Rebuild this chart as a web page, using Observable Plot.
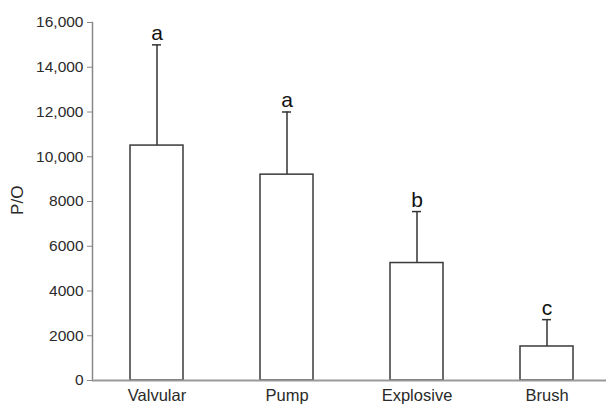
<!DOCTYPE html>
<html>
<head>
<meta charset="utf-8">
<script src="https://cdn.jsdelivr.net/npm/d3@7"></script>
<script src="https://cdn.jsdelivr.net/npm/@observablehq/plot@0.6"></script>
<style>
  html, body { margin: 0; padding: 0; background: #fff; }
  #chart svg { display: block; }
</style>
</head>
<body>
<div id="chart"></div>
<script>
const categories = ["Valvular", "Pump", "Explosive", "Brush"];
const means = [10500, 9200, 5250, 1520];
const upperErrors = [15000, 12000, 7550, 2720];
const letters = ["a", "a", "b", "c"];
const yTicks = [0, 2000, 4000, 6000, 8000, 10000, 12000, 14000, 16000];
const yTitle = "P/O";

const data = categories.map((c, i) => ({
  category: c, mean: means[i], upper: upperErrors[i], letter: letters[i]
}));

const fmt = d => d >= 10000 ? d3.format(",")(d) : String(d);

const chart = Plot.plot({
  width: 606,
  height: 406,
  marginTop: 22,
  marginBottom: 26,
  marginLeft: 92,
  marginRight: 0,
  style: { fontFamily: "Liberation Sans, Arial, sans-serif", background: "#fff" },
  x: { domain: categories, paddingInner: 0.593, paddingOuter: 0.269, align: 0.54, label: null },
  y: { domain: [0, 16000], label: null },
  marks: [
    Plot.ruleX(data, { x: "category", y1: "mean", y2: "upper", stroke: "#333", strokeWidth: 1.5 }),
    Plot.tickY(data, { x: "category", y: "upper", stroke: "#333", strokeWidth: 1.5, insetLeft: 22, insetRight: 22 }),
    Plot.barY(data, { x: "category", y: "mean", fill: "white", stroke: "#3a3a3a", strokeWidth: 1.5 }),
    Plot.text(data, { x: "category", y: "upper", text: "letter", lineAnchor: "bottom", dy: -5, fontSize: 21, fill: "#111" }),
    Plot.axisY({ ticks: yTicks, tickFormat: fmt, tickSize: 5, tickPadding: 4, stroke: "#888", fill: "#2a2a2a", fontSize: 15.5, label: null }),
    Plot.text([yTitle], { frameAnchor: "left", y: 7400, text: d => d, rotate: -90, dx: -75, fontSize: 17, fill: "#2a2a2a" }),
    Plot.axisX({ tickSize: 0, tickPadding: 9, fill: "#2a2a2a", fontSize: 16.5, label: null }),
    Plot.frame({ anchor: "left", stroke: "#888", strokeWidth: 1.5 }),
    Plot.ruleY([0], { stroke: "#999", strokeWidth: 2 })
  ]
});

document.getElementById("chart").appendChild(chart);
</script>
</body>
</html>
